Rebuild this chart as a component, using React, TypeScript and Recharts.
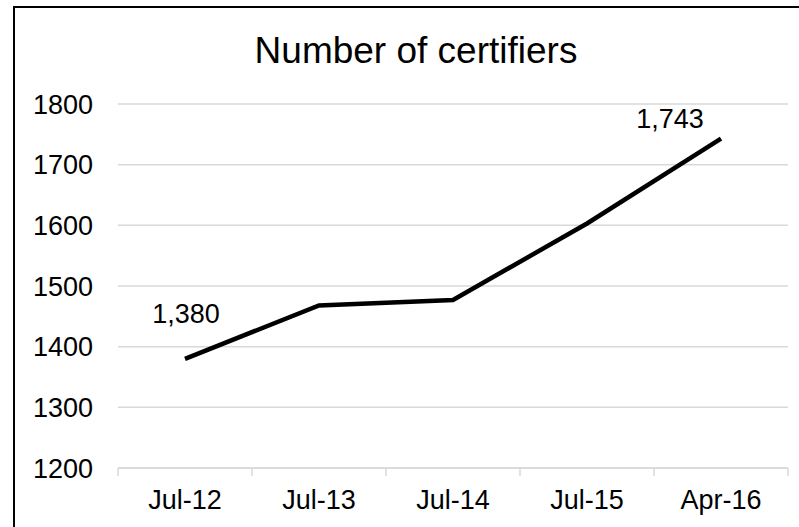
import { LineChart, Line, XAxis, YAxis, CartesianGrid, LabelList } from "recharts";

const months = ["Jul-12", "Jul-13", "Jul-14", "Jul-15", "Apr-16"];
const certifiers = [1380, 1468, 1477, 1603, 1743];
const yTicks = [1200, 1300, 1400, 1500, 1600, 1700, 1800];

const data = months.map((m, i) => ({ month: m, count: certifiers[i] }));

const FONT = "'Liberation Sans', Arial, sans-serif";
const GRID = "#d9d9d9";
const X_TICK_MARGIN = 22;

// only first and last points get a label in the original
const labelOffsets: Record<number, { dx: number; dy: number }> = {
  0: { dx: 1, dy: -36 },
  4: { dx: -51, dy: -11 },
};

function PointLabel(props: any) {
  const { x, y, value, index } = props;
  const off = labelOffsets[index];
  if (!off) return null;
  return (
    <text
      x={x + off.dx}
      y={y + off.dy}
      textAnchor="middle"
      fontSize={27}
      fontFamily={FONT}
      fill="#000"
    >
      {Number(value).toLocaleString("en-US")}
    </text>
  );
}

// excel puts the tick marks between categories, not under them
function MonthTick(props: any) {
  const { x, y, payload, index, visibleTicksCount } = props;
  const half = payload?.offset ?? 0;
  const axisY = y - X_TICK_MARGIN;
  const isLast = index === visibleTicksCount - 1;
  return (
    <g>
      <line x1={x - half} x2={x - half} y1={axisY} y2={axisY + 8} stroke={GRID} strokeWidth={1.5} />
      {isLast && (
        <line x1={x + half} x2={x + half} y1={axisY} y2={axisY + 8} stroke={GRID} strokeWidth={1.5} />
      )}
      <text x={x} y={y} dy="0.71em" textAnchor="middle" fontSize={27} fontFamily={FONT} fill="#000">
        {payload.value}
      </text>
    </g>
  );
}

export default function App() {
  return (
    <div
      style={{
        position: "fixed",
        left: 0,
        top: 0,
        width: 799,
        height: 527,
        overflow: "hidden",
        background: "#fff",
        fontFamily: FONT,
      }}
    >
      <div
        style={{
          position: "absolute",
          left: 13,
          top: 6,
          width: 900,
          height: 700,
          border: "2px solid #000",
        }}
      />
      <div
        style={{
          position: "absolute",
          left: 0,
          width: 832,
          top: 30,
          textAlign: "center",
          fontSize: 37,
          color: "#000",
        }}
      >
        Number of certifiers
      </div>
      <div style={{ position: "absolute", left: 0, top: 0 }}>
        <LineChart
          width={799}
          height={527}
          data={data}
          margin={{ top: 104, right: 11, left: 0, bottom: 0 }}
        >
          <CartesianGrid vertical={false} stroke={GRID} strokeWidth={1.5} />
          <XAxis
            dataKey="month"
            scale="band"
            axisLine={{ stroke: GRID, strokeWidth: 1.5 }}
            tickLine={false}
            tickSize={0}
            tickMargin={X_TICK_MARGIN}
            height={59}
            interval={0}
            tick={<MonthTick />}
          />
          <YAxis
            domain={[1200, 1800]}
            ticks={yTicks}
            axisLine={false}
            tickLine={false}
            tickSize={0}
            tickMargin={25}
            width={118}
            tick={{ fontSize: 27, fill: "#000", fontFamily: FONT }}
          />
          <Line
            type="linear"
            dataKey="count"
            stroke="#000"
            strokeWidth={4.5}
            dot={false}
            isAnimationActive={false}
          >
            <LabelList dataKey="count" content={<PointLabel />} />
          </Line>
        </LineChart>
      </div>
    </div>
  );
}
